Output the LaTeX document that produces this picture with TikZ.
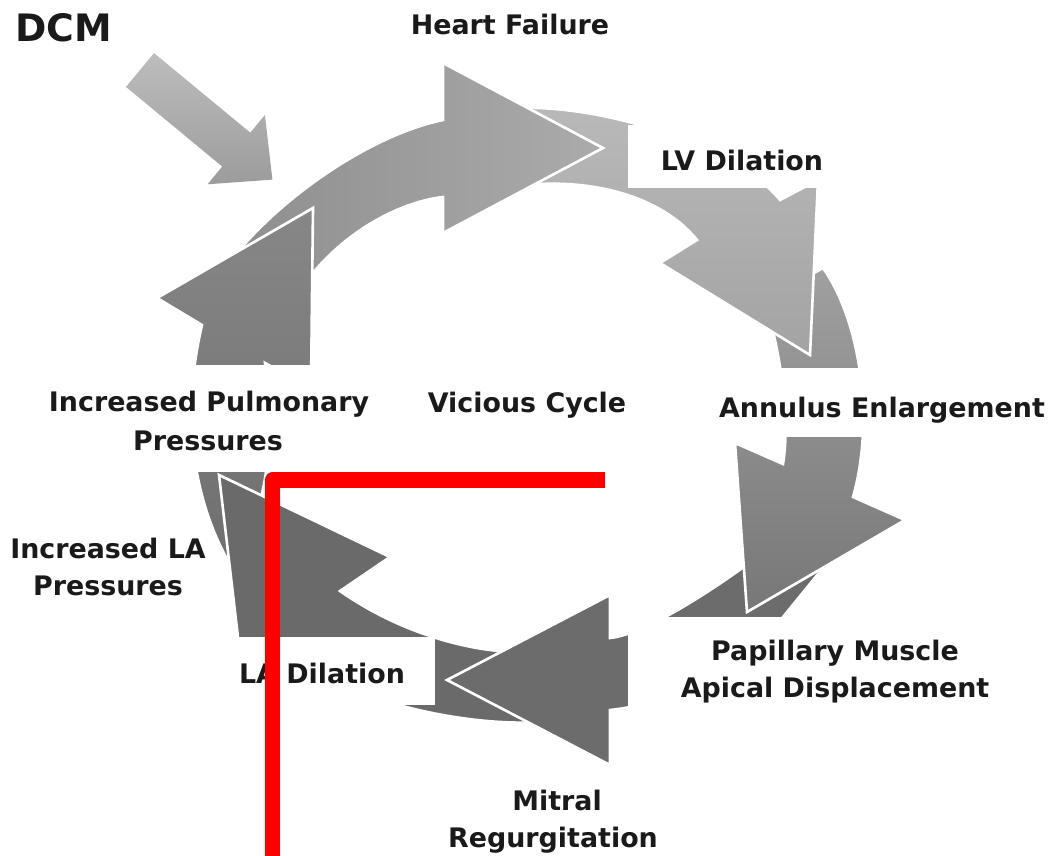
\documentclass[tikz,border=0pt]{standalone}
\usepackage{fontspec}
\setmainfont{DejaVu Sans}
\definecolor{txt}{HTML}{1A1A1A}
\definecolor{redl}{HTML}{FF0000}
\definecolor{a1l}{HTML}{8E8E8E}
\definecolor{a1r}{HTML}{ABABAB}
\definecolor{a2t}{HTML}{B9B9B9}
\definecolor{a2b}{HTML}{A3A3A3}
\definecolor{a3t}{HTML}{A0A0A0}
\definecolor{a3b}{HTML}{777777}
\definecolor{a4}{HTML}{6C6C6C}
\definecolor{a5}{HTML}{6A6A6A}
\definecolor{a6t}{HTML}{878787}
\definecolor{a6b}{HTML}{6E6E6E}
\definecolor{dcmt}{HTML}{BDBDBD}
\definecolor{dcmb}{HTML}{9C9C9C}
\newcommand{\ArrowOne}{\path[arr, left color=a1l, right color=a1r]
  (225,268) .. controls (275,200) and (370,135) .. (443,120)
  -- (443,63) -- (603,148) -- (443,233) -- (443,197)
  .. controls (400,202) and (340,232) .. (300,290) -- cycle;}
\begin{document}
\begin{tikzpicture}[x=0.02cm,y=-0.02cm,
  arr/.style={draw=white, line width=1.5pt, line join=miter},
  lbl/.style={font=\fontsize{15.3}{18}\selectfont\bfseries, text=txt, inner sep=0pt, anchor=base},
  whitebox/.style={fill=white, draw=none}]
\useasboundingbox (0,0) rectangle (1061,855);
\fill[white] (0,0) rectangle (1061,855);

% arrow 1 (to Heart Failure)
\ArrowOne
% arrow 6 (Increased Pulmonary Pressures)
\path[arr, top color=a6t, bottom color=a6b]
  (240,580) .. controls (205,530) and (175,440) .. (202,325)
  -- (157,298) -- (313,208) -- (311,388) -- (265,363)
  .. controls (272,420) and (272,480) .. (250,530) -- cycle;
% arrow 5 (LA)
\path[arr, fill=a5]
  (540,722) .. controls (470,727) and (330,702) .. (276,638)
  -- (241,663) -- (219,475) -- (390,557) -- (340,591)
  .. controls (400,633) and (470,652) .. (520,652) -- cycle;
% arrow 4 (Mitral)
\path[arr, fill=a4]
  (835,540) -- (840,547) -- (783,617) -- (760,645)
  .. controls (720,680) and (660,705) .. (610,710)
  -- (610,765) -- (447,680) -- (610,595) -- (610,638)
  .. controls (640,635) and (700,600) .. (760,555) -- cycle;
% arrow 3 (Annulus)
\path[arr, top color=a3t, bottom color=a3b]
  (823,268) .. controls (860,320) and (875,420) .. (853,497)
  -- (905,520) -- (747,612) -- (735,443) -- (783,464)
  .. controls (790,420) and (782,360) .. (765,300) -- cycle;
% arrow 2 (LV)
\path[arr, top color=a2t, bottom color=a2b]
  (520,108) .. controls (610,105) and (740,150) .. (780,200)
  -- (818,180) -- (810,355) -- (660,263) -- (697,240)
  .. controls (665,200) and (600,178) .. (525,185) -- cycle;
% head of arrow 1 over tail of arrow 2
\begin{scope}
  \clip (400,0) rectangle (700,300);
  \ArrowOne
\end{scope}

% DCM input arrow
\path[top color=dcmt, bottom color=dcmb, draw=none]
  (126.0,86.9) -- (222.2,166.5) -- (207.6,184.3) -- (272.4,179.6)
  -- (264.9,115.0) -- (250.3,132.7) -- (154.0,53.1) -- cycle;

% white label boxes
\fill[whitebox] (628,125) rectangle (832,188);
\fill[whitebox] (715,368) rectangle (1061,437);
\fill[whitebox] (628,617) rectangle (1000,715);
\fill[whitebox] (233,637) rectangle (435,705);
\fill[whitebox] (40,365) rectangle (380,472);

% labels
\node[lbl, anchor=base west, font=\fontsize{21.5}{24}\selectfont\bfseries] (dcm) at (15,42) {DCM};
\node[lbl] (hf) at (510,35) {Heart Failure};
\node[lbl] (lv) at (742,170) {LV Dilation};
\node[lbl] (ae) at (882,417) {Annulus Enlargement};
\node[lbl] (vc) at (527,412) {Vicious Cycle};
\node[lbl] (ipp1) at (209,411) {Increased Pulmonary};
\node[lbl] (ipp2) at (208,450) {Pressures};
\node[lbl] (ila1) at (108,558) {Increased LA};
\node[lbl] (ila2) at (108,595) {Pressures};
\node[lbl] (lad) at (322,683) {LA Dilation};
\node[lbl] (pm1) at (835,660) {Papillary Muscle};
\node[lbl] (pm2) at (835,697) {Apical Displacement};
\node[lbl] (mr1) at (557,810) {Mitral};
\node[lbl] (mr2) at (553,847) {Regurgitation};

% red overlay
\draw[redl, line width=9pt, line join=round] (272.5,870) -- (272.5,480) -- (605,480);
\end{tikzpicture}
\end{document}
